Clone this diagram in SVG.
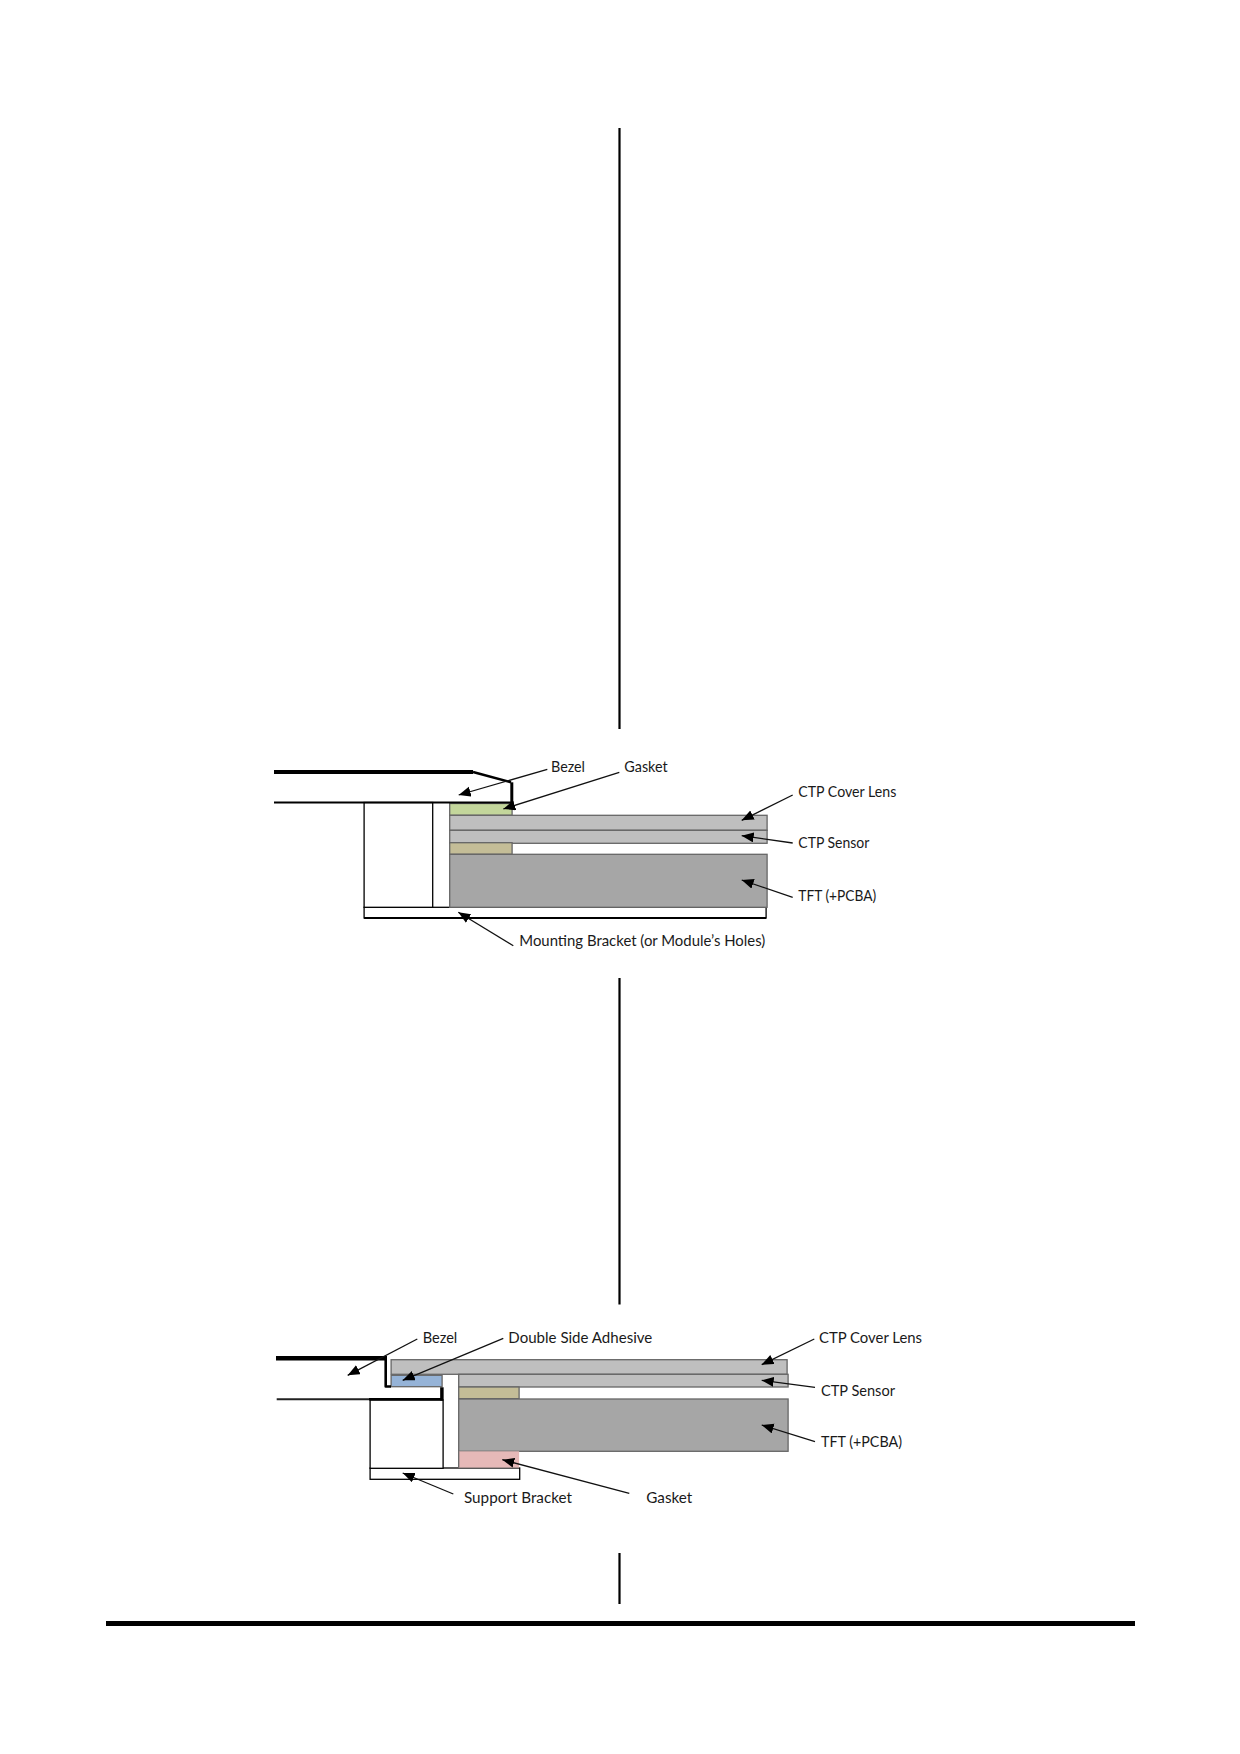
<svg xmlns="http://www.w3.org/2000/svg" width="1240" height="1754" viewBox="0 0 1240 1754">
<style>
text{font-family:"Lato","Liberation Sans",sans-serif;font-size:15px;fill:#1a1a1a}
.rule{stroke:#000;stroke-width:2.200;fill:none}
.g{stroke:#666;stroke-width:1.300}
.lens{fill:#bfbfbf}.tft{fill:#a6a6a6}.tan{fill:#c4bd97}.grn{fill:#c3d69b}.blu{fill:#95b3d7}.pnk{fill:#e6b9b8}
.k{stroke:#000;stroke-width:1.300;fill:#fff}
.b{stroke:#000;fill:none;stroke-linejoin:round}
.a{stroke:#111;stroke-width:1.300;fill:none;marker-end:url(#ah)}
</style>
<defs><marker id="ah" markerUnits="userSpaceOnUse" markerWidth="13" markerHeight="11" refX="12" refY="5" orient="auto"><path d="M0 0L12 5L0 10Z" fill="#000"/></marker></defs>
<rect width="1240" height="1754" fill="#fff"/>
<g id="rules">
<path class="rule" d="M619.500 128V729M619.500 978V1304.500M619.500 1553V1604"/>
<rect x="106" y="1621" width="1029" height="5" fill="#000"/>
</g>
<g id="section-1">
<g transform="translate(.4 0)">
<g id="bracket1"><rect class="k" x="363.700" y="907.300" width="402" height="10.700"/><path d="M363.700 918H765.700" stroke="#000" stroke-width="2.200"/></g>
<g id="spacer1"><rect class="k" x="363.700" y="802.500" width="68.600" height="104.800"/></g>
<g id="gasket1"><rect class="g grn" x="449.300" y="803.500" width="62.400" height="11.800"/></g>
<g id="lens1"><rect class="g lens" x="449.300" y="815.300" width="317.400" height="15"/></g>
<g id="sensor1"><rect class="g lens" x="449.300" y="830.300" width="317.400" height="13"/></g>
<g id="tan1"><rect class="g tan" x="449.300" y="842.700" width="62.400" height="11.600"/></g>
<g id="tft1"><rect class="g tft" x="449.300" y="854.300" width="317.400" height="53"/></g>
</g>
<g id="bezel1">
<path class="b" stroke-width="3.800" d="M274 772H473"/>
<path class="b" stroke-width="2.500" d="M473 772L511 782.300"/>
<path class="b" stroke-width="3" d="M511.800 782.300V803"/>
<path class="b" stroke-width="2" d="M274 802.500H511.500"/>
</g>
<text x="551" y="771.700" textLength="34" lengthAdjust="spacingAndGlyphs">Bezel</text>
<text x="624.300" y="771.700" textLength="43.400" lengthAdjust="spacingAndGlyphs">Gasket</text>
<text x="798.300" y="796.700" textLength="98" lengthAdjust="spacingAndGlyphs">CTP Cover Lens</text>
<text x="798.300" y="848.300" textLength="71" lengthAdjust="spacingAndGlyphs">CTP Sensor</text>
<text x="798.300" y="901" textLength="78" lengthAdjust="spacingAndGlyphs">TFT (+PCBA)</text>
<text x="519.300" y="946" textLength="246" lengthAdjust="spacingAndGlyphs">Mounting Bracket (or Module’s Holes)</text>
</g>
<g id="connectors-1">
<path class="a" d="M547.300 769.300L458.700 795"/>
<path class="a" d="M619.300 772.300L503.300 809"/>
<path class="a" d="M513.300 945.700L458.300 912.300"/>
<path class="a" d="M792.700 795L741.700 820.300"/>
<path class="a" d="M792.700 843L741.700 835.700"/>
<path class="a" d="M792.700 897.300L741.700 880"/>
</g>
<g id="section-2">
<g transform="translate(.4 0)">
<g id="bracket2"><rect class="k" x="369.700" y="1468" width="149.600" height="11.300"/></g>
<g id="spacer2"><rect class="k" x="369.700" y="1400" width="73" height="68.300"/></g>
<g id="lens2"><rect class="g lens" x="390.700" y="1359.700" width="396" height="14.600"/></g>
<g id="sensor2"><rect class="g lens" x="458.300" y="1374.300" width="329.400" height="12.700"/></g>
<g id="adhesive2"><rect class="g blu" x="390.700" y="1375.300" width="51" height="11.400"/></g>
<g id="tan2"><rect class="g tan" x="458.300" y="1387" width="60.400" height="11.700"/></g>
<g id="tft2"><rect class="g tft" x="458.300" y="1399" width="329.400" height="52.300"/></g>
<g id="gasket2"><rect class="pnk" x="458.300" y="1451.300" width="60.400" height="16.300"/><path d="M458.300 1451.300V1467.600" class="g"/></g>
</g>
<g id="bezel2">
<path class="b" stroke-width="4.500" d="M276 1358.300H387"/>
<path class="b" stroke-width="2.600" d="M385.700 1358V1386.500H391"/>
<path stroke="#222" stroke-width="2" d="M276.700 1399.300H370"/>
<path class="b" stroke-width="2.400" d="M369 1399.300H443"/>
<path class="b" stroke-width="3.500" d="M441.900 1387.300V1400.500"/>
</g>
<text x="422.700" y="1343" textLength="34.600" lengthAdjust="spacingAndGlyphs">Bezel</text>
<text x="508.300" y="1343" textLength="144" lengthAdjust="spacingAndGlyphs">Double Side Adhesive</text>
<text x="819" y="1343" textLength="103" lengthAdjust="spacingAndGlyphs">CTP Cover Lens</text>
<text x="821" y="1396" textLength="74" lengthAdjust="spacingAndGlyphs">CTP Sensor</text>
<text x="821" y="1446.700" textLength="81" lengthAdjust="spacingAndGlyphs">TFT (+PCBA)</text>
<text x="464" y="1502.700" textLength="108" lengthAdjust="spacingAndGlyphs">Support Bracket</text>
<text x="646.300" y="1502.700" textLength="46" lengthAdjust="spacingAndGlyphs">Gasket</text>
</g>
<g id="connectors-2">
<path class="a" d="M417.300 1339L347.700 1375.300"/>
<path class="a" d="M503.300 1338.300L402.700 1380.300"/>
<path class="a" d="M453.300 1494L402.700 1473"/>
<path class="a" d="M629.300 1493.300L502.300 1459.700"/>
<path class="a" d="M814.300 1339L761.700 1364.700"/>
<path class="a" d="M815 1387.300L761.700 1380.300"/>
<path class="a" d="M815 1441.700L761.700 1425"/>
</g>
</svg>
